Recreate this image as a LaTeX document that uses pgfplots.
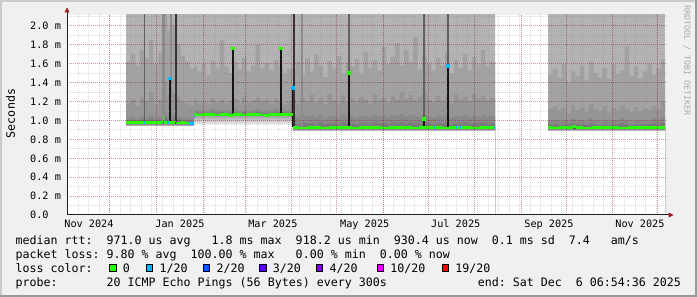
\documentclass[border=0pt]{standalone}
\usepackage{fontspec}
\setmainfont{DejaVu Sans Mono}
\setmonofont{DejaVu Sans Mono}
\usepackage{pgfplots}
\pgfplotsset{compat=1.18}
\usepackage{pgfplotstable}
\definecolor{bg}{HTML}{F0F0F0}
\definecolor{shadea}{HTML}{CBCBCB}
\definecolor{shadeb}{HTML}{999999}
\definecolor{smokeA}{HTML}{B3B3B3}
\definecolor{smokeB}{HTML}{A2A2A2}
\definecolor{smokeC}{HTML}{959595}
\definecolor{smokeD}{HTML}{898989}
\definecolor{smokeE}{HTML}{7A7A7A}
\definecolor{loss0}{HTML}{26FF00}
\definecolor{loss1}{HTML}{00B8FF}
\definecolor{loss2}{HTML}{0059FF}
\definecolor{loss3}{HTML}{5E00FF}
\definecolor{loss4}{HTML}{7E00FF}
\definecolor{loss10}{HTML}{DD00FF}
\definecolor{loss19}{HTML}{FF0000}
\definecolor{mgrid}{HTML}{821E1E}
\definecolor{mingrid}{HTML}{8C8C8C}
\definecolor{arrowc}{HTML}{A01818}
\definecolor{axisc}{HTML}{202020}
\definecolor{wmark}{HTML}{AAAAAA}
\newcommand\tickfont{\fontsize{10.2bp}{12bp}\selectfont}
\newcommand\legfont{\fontsize{11.63bp}{14bp}\selectfont}
\newcommand\wmfont{\fontsize{8.3bp}{10bp}\selectfont}

% smoke bands (upper edge of each band, in ms), x = days from 1 Jan 2025
\pgfplotstableread{
x L2 L3 L4 L5
-20.3 1.62 1.18 1.03 1.00
-17 1.70 1.22 1.04 1.01
-14 1.58 1.15 1.02 1.00
-11 1.75 1.25 1.05 1.01
-8 1.66 1.20 1.03 1.00
-5 1.85 1.30 1.06 1.02
-2 1.60 1.17 1.03 1.00
1 1.72 1.22 1.04 1.01
4 2.20 1.40 1.08 1.04
7 1.95 1.28 1.05 1.01
10 2.00 1.30 1.06 1.02
13 1.80 1.25 1.04 1.01
16 1.68 1.20 1.03 1.00
19 1.62 1.18 1.03 1.00
22 1.55 1.16 1.02 0.99
25.0 1.58 1.22 1.11 1.085
27 1.52 1.18 1.10 1.08
30 1.60 1.20 1.11 1.085
33 1.48 1.17 1.10 1.08
36 1.63 1.24 1.12 1.09
39 1.55 1.19 1.10 1.08
42 1.85 1.22 1.11 1.085
45 1.57 1.18 1.10 1.08
48 1.50 1.21 1.11 1.08
51 1.62 1.23 1.12 1.09
54 1.54 1.18 1.10 1.08
57 1.66 1.25 1.11 1.085
60 1.52 1.19 1.10 1.08
63 1.58 1.21 1.11 1.085
66 1.80 1.24 1.12 1.09
69 1.56 1.20 1.10 1.08
72 1.61 1.22 1.11 1.08
75 1.53 1.18 1.10 1.08
78 1.64 1.23 1.12 1.09
81 1.57 1.20 1.11 1.09
84 1.50 1.17 1.10 1.085
87 1.55 1.19 1.11 1.085
90.9 1.55 1.22 1.05 0.97
93 1.62 1.18 1.03 0.96
96 1.48 1.25 1.06 0.98
99 1.66 1.20 1.04 0.97
102 1.52 1.27 1.05 0.97
105 1.70 1.19 1.03 0.96
108 1.58 1.24 1.06 0.98
111 1.46 1.17 1.02 0.96
114 1.63 1.28 1.05 0.97
117 1.55 1.21 1.04 0.97
120 1.68 1.18 1.03 0.96
123 1.50 1.26 1.06 0.98
126 1.61 1.20 1.04 0.97
129 1.57 1.23 1.05 0.97
132 1.65 1.19 1.03 0.96
135 1.49 1.25 1.05 0.97
138 1.72 1.22 1.04 0.97
141 1.56 1.18 1.03 0.96
144 1.64 1.27 1.06 0.98
147 1.53 1.21 1.04 0.97
150 1.78 1.24 1.05 0.97
153 1.60 1.19 1.03 0.96
156 1.67 1.26 1.06 0.98
159 1.82 1.22 1.05 0.97
162 1.58 1.30 1.07 0.98
165 1.75 1.23 1.04 0.97
168 1.62 1.27 1.06 0.98
171 1.88 1.21 1.05 0.97
174 1.55 1.25 1.04 0.97
177 1.69 1.28 1.06 0.98
180 1.60 1.22 1.05 0.97
183 1.52 1.19 1.03 0.96
186 1.66 1.26 1.05 0.97
189 1.58 1.21 1.04 0.97
192 1.73 1.24 1.06 0.98
195 1.50 1.18 1.03 0.96
198 1.64 1.27 1.05 0.97
201 1.56 1.22 1.04 0.97
204 1.70 1.25 1.06 0.98
207 1.53 1.20 1.04 0.97
210 1.67 1.28 1.05 0.97
213 1.59 1.23 1.04 0.97
216 1.75 1.26 1.06 0.98
219 1.57 1.21 1.04 0.97
222 1.62 1.24 1.05 0.97
225.5 0 0 0 0
260.8 1.48 1.12 1.00 0.96
264 1.55 1.15 1.01 0.96
267 1.45 1.10 0.99 0.95
270 1.60 1.13 1.00 0.96
273 1.40 1.07 0.99 0.95
276 1.52 1.16 1.02 0.97
279 1.47 1.11 1.00 0.96
282 1.58 1.14 1.01 0.96
285 1.43 1.09 0.99 0.95
288 1.62 1.17 1.02 0.97
291 1.50 1.12 1.00 0.96
294 1.46 1.10 0.99 0.95
297 1.56 1.15 1.01 0.96
300 1.44 1.08 0.99 0.95
303 1.59 1.13 1.00 0.96
306 1.49 1.11 1.00 0.96
309 1.53 1.16 1.02 0.97
312 1.78 1.12 1.00 0.96
315 1.47 1.09 0.99 0.95
318 1.57 1.14 1.01 0.96
321 1.45 1.10 1.00 0.96
324 1.52 1.13 1.01 0.96
327 1.60 1.11 1.00 0.96
330 1.48 1.15 1.02 0.97
333 1.55 1.12 1.01 0.96
336 1.65 1.20 1.04 0.98
338.7 1.65 1.20 1.04 0.98
}\smoke

\pgfplotstableread{
x m
-20.3 0.978
-17 0.975
-14 0.980
-11 0.977
-8 0.981
-5 0.978
-2 0.976
1 0.979
3.5 0.990
4.3 1.035
5.0 0.977
7 0.978
10 0.975
13 0.973
16 0.975
19 0.973
22 0.970
25.0 1.060
27 1.058
30 1.062
33 1.060
36 1.064
39 1.058
42 1.062
45 1.060
48 1.057
51 1.062
54 1.060
57 1.058
60 1.062
63 1.060
66 1.064
69 1.058
72 1.057
75 1.060
78 1.065
81 1.067
84 1.063
87 1.062
90.9 0.922
95 0.921
100 0.923
105 0.922
110 0.921
115 0.922
120 0.923
125 0.922
130 0.921
135 0.922
140 0.923
145 0.922
150 0.921
155 0.922
160 0.923
165 0.922
170 0.921
175 0.922
180 0.923
185 0.922
190 0.921
195 0.922
200 0.923
205 0.922
210 0.921
215 0.922
220 0.922
225.5 0.922
225.6 nan
260.8 0.922
264 0.921
268 0.922
272 0.923
275.5 0.922
277.5 0.935
279.5 0.922
284 0.921
290 0.922
296 0.923
302 0.922
308 0.921
314 0.922
320 0.923
326 0.922
332 0.924
336 0.928
338.7 0.930
}\median

\begin{document}
\frenchspacing
\begin{tikzpicture}
\useasboundingbox (0,0) rectangle (697bp,297bp);
\fill[bg] (0,0) rectangle (697bp,297bp);
\fill[shadea] (0,0) rectangle (2bp,297bp);
\fill[shadea] (0,295bp) rectangle (697bp,297bp);
\fill[shadeb] (0,0) rectangle (697bp,2bp);
\fill[shadeb] (695bp,0) rectangle (697bp,297bp);

\begin{axis}[
  at={(67bp,82bp)}, anchor=south west,
  scale only axis, width=600bp, height=200.34bp,
  xmin=-59.61, xmax=340.02, ymin=0, ymax=2.12,
  axis on top,
  axis background/.style={fill=white},
  axis line style={draw=none},
  major tick length=0pt, minor tick length=0pt,
  tick style={draw=none},
  xtick={-45,15.65,77.5,138.7,199.3,261.4,322},
  xticklabels={Nov 2024,Jan 2025,Mar 2025,May 2025,Jul 2025,Sep 2025,Nov 2025},
  xticklabel style={font=\tickfont, anchor=base, inner sep=0pt, yshift=-13bp},
  extra x ticks={-31,0,31,59,90,120,151,181,212,243,273,304,334},
  extra x tick labels={},
  extra x tick style={xmajorgrids=true},
  minor xtick={-52,-45,...,339},
  ytick={0,0.2,0.4,0.6,0.8,1.0,1.2,1.4,1.6,1.8,2.0},
  yticklabels={0.0,0.2 m,0.4 m,0.6 m,0.8 m,1.0 m,1.2 m,1.4 m,1.6 m,1.8 m,2.0 m},
  yticklabel style={font=\tickfont, anchor=west, inner sep=0pt, xshift=-37bp},
  minor ytick={0.1,0.3,0.5,0.7,0.9,1.1,1.3,1.5,1.7,1.9,2.1},
  xmajorgrids=false, ymajorgrids=true, xminorgrids=true, yminorgrids=true,
  major grid style={draw=mgrid, draw opacity=0.45, line width=1bp, dash pattern=on 1bp off 1bp},
  minor grid style={draw=mingrid, draw opacity=0.3, line width=1bp, dash pattern=on 1bp off 1bp},
]
% smoke bands
\addplot[const plot, fill=smokeA, draw=none] coordinates {(-20.3,2.3) (225.5,0) (260.8,2.3) (338.7,2.3)} \closedcycle;
\addplot[const plot, fill=smokeB, draw=none] table[x=x,y=L2]{\smoke} \closedcycle;
\addplot[const plot, fill=smokeC, draw=none] table[x=x,y=L3]{\smoke} \closedcycle;
\addplot[const plot, fill=smokeD, draw=none] table[x=x,y=L4]{\smoke} \closedcycle;
\addplot[const plot, fill=smokeE, draw=none] table[x=x,y=L5]{\smoke} \closedcycle;
% below the lowest ping
\addplot[const plot, fill=white, draw=none] coordinates {(-20.3,0.945) (25.0,0.955) (90.9,0.895) (225.5,0) (260.8,0.895) (338.7,0.895)} \closedcycle;
% fading below the median
\addplot[draw=none, top color=black!60, bottom color=black!25] coordinates {(-20.3,0.945) (-20.3,0.978) (25.0,0.978) (25.0,0.945)} -- cycle;
\addplot[draw=none, top color=black!40, bottom color=black!5] coordinates {(25.0,0.955) (25.0,1.06) (90.9,1.06) (90.9,0.955)} -- cycle;
\addplot[draw=none, top color=black!70, bottom color=black!18] coordinates {(90.9,0.895) (90.9,0.922) (225.5,0.922) (225.5,0.895)} -- cycle;
\addplot[draw=none, top color=black!70, bottom color=black!18] coordinates {(260.8,0.895) (260.8,0.922) (338.7,0.922) (338.7,0.895)} -- cycle;
% full-height dark columns
\addplot[draw=black!45, line width=2.5bp, unbounded coords=jump] coordinates {(4.6,0.99) (4.6,2.3) (4.6,nan) (9.6,0.98) (9.6,2.3) (9.6,nan) (96.9,0.93) (96.9,2.3)};
\addplot[draw=black!62, line width=1.6bp, unbounded coords=jump] coordinates {(-7.9,0.98) (-7.9,2.3) (-7.9,nan) (128.2,0.93) (128.2,2.3) (128.2,nan) (178.2,0.93) (178.2,2.3) (178.2,nan) (194.0,0.93) (194.0,2.3)};
\addplot[draw=black!80, line width=2bp, unbounded coords=jump] coordinates {(13.2,0.98) (13.2,2.3) (13.2,nan) (91.9,0.93) (91.9,2.3)};
% single-bin median spikes
\addplot[draw=black!92, line width=1.6bp, unbounded coords=jump] coordinates {(8.8,0.975) (8.8,1.447) (8.8,nan) (51.0,1.06) (51.0,1.764) (51.0,nan) (82.9,1.06) (82.9,1.764) (82.9,nan) (128.2,0.922) (128.2,1.503) (128.2,nan) (178.2,0.922) (178.2,1.02) (178.2,nan) (194.0,0.922) (194.0,1.58)};
\addplot[draw=black!92, line width=1bp] coordinates {(90.7,0.93) (90.7,1.35)};
% median, coloured by loss
\addplot[jump mark left, draw=loss0, line width=2.8bp, unbounded coords=jump] table[x=x,y=m]{\median};
\addplot[draw=loss1, line width=2.8bp, unbounded coords=jump] coordinates {(-8.4,0.979) (-7.4,0.979) (-7.4,nan) (7.2,0.977) (8.0,0.977) (8.0,nan) (21.6,0.969) (25.0,0.969) (25.0,nan) (25.0,1.045) (25.7,1.045) (25.7,nan) (184.6,0.922) (185.3,0.922) (185.3,nan) (199.6,0.922) (200.3,0.922) (200.3,nan) (202.2,0.922) (202.9,0.922) (202.9,nan) (224.8,0.922) (225.5,0.922)};
\addplot[draw=loss3, line width=2.8bp] coordinates {(12.0,0.973) (12.7,0.973)};
\addplot[only marks, mark=square*, mark size=1.4bp, loss0] coordinates {(51.0,1.764) (82.9,1.764) (128.2,1.503) (178.2,1.02)};
\addplot[only marks, mark=square*, mark size=1.4bp, loss1] coordinates {(8.8,1.447) (90.7,1.35) (194.0,1.58)};
\end{axis}

% axes with arrows
\draw[axisc, line width=1bp] (67bp,82bp) -- (670bp,82bp);
\draw[axisc, line width=1bp] (67bp,82bp) -- (67bp,286bp);
\fill[arrowc] (673.5bp,82bp) -- (668.5bp,84.5bp) -- (668.5bp,79.5bp) -- cycle;
\fill[arrowc] (67bp,289.5bp) -- (64.5bp,284.5bp) -- (69.5bp,284.5bp) -- cycle;

% unit and watermark
\node[font=\legfont, rotate=90, inner sep=0pt] at (10.5bp,183.5bp) {Seconds};
\node[font=\wmfont, text=wmark, rotate=-90, anchor=west, inner sep=0pt] at (687bp,292bp) {RRDTOOL / TOBI OETIKER};

% legend
\node[font=\legfont, anchor=base west, inner sep=0pt] at (15.5bp,52.5bp) {median rtt:\ \ 971.0 us avg\ \ \ 1.8 ms max\ \ 918.2 us min\ \ 930.4 us now\ \ 0.1 ms sd\ \ 7.4\ \ \ am/s};
\node[font=\legfont, anchor=base west, inner sep=0pt] at (15.5bp,38.5bp) {packet loss: 9.80 \% avg\ \ 100.00 \% max\ \ \ 0.00 \% min\ \ 0.00 \% now};
\node[font=\legfont, anchor=base west, inner sep=0pt] at (15.5bp,24.5bp) {loss color:};
\node[font=\legfont, anchor=base west, inner sep=0pt] at (15.5bp,10.5bp) {probe:\ \ \ \ \ \ \ 20 ICMP Echo Pings (56 Bytes) every 300s\ \ \ \ \ \ \ \ \ \ \ \ \ end: Sat Dec\ \ 6 06:54:36 2025};
\foreach \sx/\sc/\lab in {109.3/loss0/0, 146/loss1/1\slash 20, 203/loss2/2\slash 20, 259.3/loss3/3\slash 20, 316/loss4/4\slash 20, 376.7/loss10/10\slash 20, 441.7/loss19/19\slash 20}{
  \filldraw[fill=\sc, draw=black, line width=0.8bp] (\sx bp+0.4bp,25.7bp) rectangle ++(6.4bp,6.6bp);
  \node[font=\legfont, anchor=base west, inner sep=0pt] at (\sx bp+13.4bp,24.5bp) {\lab};
}
\end{tikzpicture}
\end{document}
